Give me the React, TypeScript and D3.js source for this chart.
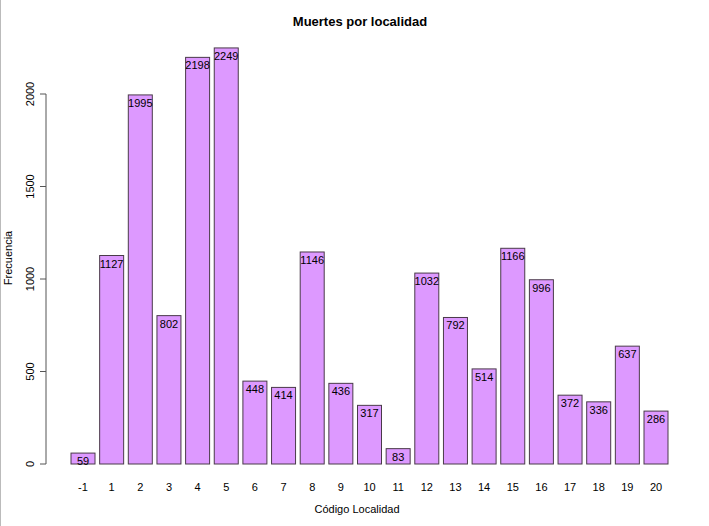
import React from "react";
import * as d3 from "d3";

const categories = ["-1","1","2","3","4","5","6","7","8","9","10","11","12","13","14","15","16","17","18","19","20"];
const values = [59,1127,1995,802,2198,2249,448,414,1146,436,317,83,1032,792,514,1166,996,372,336,637,286];
const yTicks = [0,500,1000,1500,2000];

export default function App() {
  const W = 709, H = 526;
  const y = d3.scaleLinear().domain([0, 2000]).range([464, 94]);
  const step = 28.65, bw = 24, x0 = 71;
  const font = "Liberation Sans, Arial, sans-serif";
  return (
    <svg width={W} height={H} style={{ position: "absolute", left: 0, top: 0, fontFamily: font }}>
      <rect width={W} height={H} fill="#fff" />
      <line x1={0.5} y1={0} x2={0.5} y2={H} stroke="#bbb" />
      <text x={360} y={26} textAnchor="middle" fontWeight="bold" fontSize={13}>Muertes por localidad</text>
      <line x1={46} x2={46} y1={y(0)} y2={y(2000)} stroke="#555" />
      {yTicks.map(t => (
        <g key={t}>
          <line x1={40} x2={46} y1={y(t)} y2={y(t)} stroke="#555" />
          <text transform={`translate(34,${y(t)}) rotate(-90)`} textAnchor="middle" fontSize={11}>{t}</text>
        </g>
      ))}
      {values.map((v, i) => {
        const x = x0 + i * step;
        return (
          <g key={i}>
            <rect x={x} y={y(v)} width={bw} height={y(0) - y(v)} fill="#DD99FF" stroke="#4a3a4a" strokeWidth={1} />
            <text x={x + bw / 2} y={y(v) + 12} textAnchor="middle" fontSize={11}>{v}</text>
            <text x={x + bw / 2} y={491} textAnchor="middle" fontSize={11}>{categories[i]}</text>
          </g>
        );
      })}
      <text x={357} y={513} textAnchor="middle" fontSize={11}>Código Localidad</text>
      <text transform={`translate(12,258) rotate(-90)`} textAnchor="middle" fontSize={11}>Frecuencia</text>
    </svg>
  );
}
